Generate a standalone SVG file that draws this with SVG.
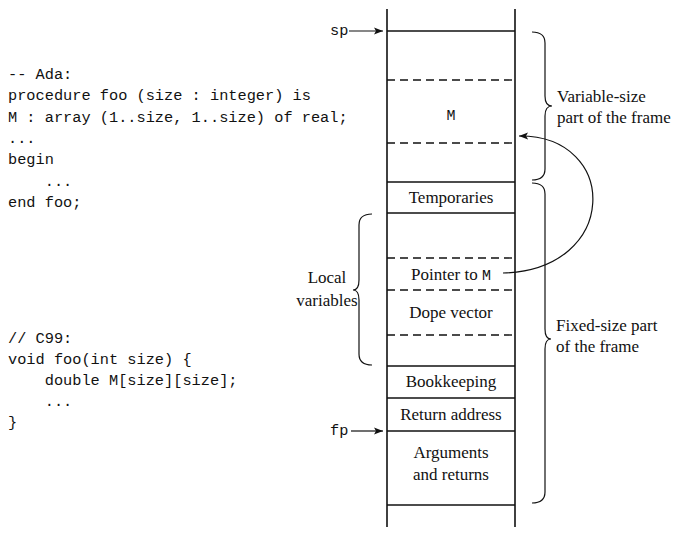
<svg xmlns="http://www.w3.org/2000/svg" width="681" height="541" viewBox="0 0 681 541">
<style>
.code{font-family:"Liberation Mono","DejaVu Sans Mono",monospace;font-size:15.3px;fill:#111}
.lbl{font-family:"Liberation Serif","DejaVu Serif",serif;font-size:17px;fill:#111}
.mid{text-anchor:middle}
.mono{font-family:"Liberation Mono","DejaVu Sans Mono",monospace;font-size:15px}
.solid{stroke:#111;stroke-width:1.6;fill:none}
.dash{stroke:#111;stroke-width:1.4;fill:none;stroke-dasharray:8 5}
.brace{stroke:#111;stroke-width:1.2;fill:none}
.conn{stroke:#111;stroke-width:1.2;fill:none}
</style>
<defs>
<marker id="ah" markerWidth="10" markerHeight="8" refX="9" refY="4" orient="auto" markerUnits="userSpaceOnUse">
<path d="M0,0.5 L9,4 L0,7.5 L2,4 Z" fill="#111"/>
</marker>
</defs>
<g id="code-ada">
<text class="code" x="8" y="79">-- Ada:</text>
<text class="code" x="8" y="100">procedure foo (size : integer) is</text>
<text class="code" x="8" y="122">M : array (1..size, 1..size) of real;</text>
<text class="code" x="8" y="143">...</text>
<text class="code" x="8" y="164">begin</text>
<text class="code" x="8" y="186" xml:space="preserve">    ...</text>
<text class="code" x="8" y="207">end foo;</text>
</g>
<g id="code-c99">
<text class="code" x="8" y="343">// C99:</text>
<text class="code" x="8" y="364">void foo(int size) {</text>
<text class="code" x="8" y="385" xml:space="preserve">    double M[size][size];</text>
<text class="code" x="8" y="406" xml:space="preserve">    ...</text>
<text class="code" x="8" y="427">}</text>
</g>
<g id="stack">
<line class="solid" x1="387" y1="9" x2="387" y2="527"/>
<line class="solid" x1="515" y1="9" x2="515" y2="527"/>
<line class="solid" x1="387" y1="31" x2="515" y2="31"/>
<line class="dash" x1="387" y1="80" x2="515" y2="80"/>
<line class="dash" x1="387" y1="143" x2="515" y2="143"/>
<line class="solid" x1="387" y1="182" x2="515" y2="182"/>
<line class="solid" x1="387" y1="213" x2="515" y2="213"/>
<line class="dash" x1="387" y1="258" x2="515" y2="258"/>
<line class="dash" x1="387" y1="290" x2="515" y2="290"/>
<line class="dash" x1="387" y1="335" x2="515" y2="335"/>
<line class="solid" x1="387" y1="366" x2="515" y2="366"/>
<line class="solid" x1="387" y1="398" x2="515" y2="398"/>
<line class="solid" x1="387" y1="431" x2="515" y2="431"/>
<line class="solid" x1="387" y1="505" x2="515" y2="505"/>
</g>
<g id="node-M"><text class="lbl mono mid" x="451" y="120">M</text></g>
<g id="node-temporaries"><text class="lbl mid" x="451" y="203">Temporaries</text></g>
<g id="node-pointer"><text class="lbl mid" x="451" y="280">Pointer to <tspan class="mono">M</tspan></text></g>
<g id="node-dope"><text class="lbl mid" x="451" y="318">Dope vector</text></g>
<g id="node-bookkeeping"><text class="lbl mid" x="451" y="387">Bookkeeping</text></g>
<g id="node-return"><text class="lbl mid" x="451" y="420">Return address</text></g>
<g id="node-args"><text class="lbl mid" x="451" y="458">Arguments</text><text class="lbl mid" x="451" y="480">and returns</text></g>
<g id="node-sp"><text class="code" x="330" y="35">sp</text></g>
<g id="node-fp"><text class="code" x="330" y="435">fp</text></g>
<g id="brace-variable">
<path class="brace" d="M532,32 Q545,32 545,43 L545,96 Q545,106 552,106 Q545,106 545,116 L545,169 Q545,180 532,180"/>
<text class="lbl" x="557" y="102">Variable-size</text>
<text class="lbl" x="557" y="123">part of the frame</text>
</g>
<g id="brace-fixed">
<path class="brace" d="M532,183 Q545,183 545,194 L545,329 Q545,339 551,339 Q545,339 545,349 L545,492 Q545,503 532,503"/>
<text class="lbl" x="556" y="331">Fixed-size part</text>
<text class="lbl" x="556" y="352">of the frame</text>
</g>
<g id="brace-local">
<path class="brace" d="M372,214 Q359,214 359,225 L359,280 Q359,290 353,290 Q359,290 359,300 L359,354 Q359,365 372,365"/>
<text class="lbl mid" x="327" y="283">Local</text>
<text class="lbl mid" x="327" y="306">variables</text>
</g>
<g id="connectors">
<line class="conn" x1="349" y1="31" x2="383" y2="31" marker-end="url(#ah)"/>
<line class="conn" x1="351" y1="431" x2="383" y2="431" marker-end="url(#ah)"/>
<path class="conn" d="M503,273 C620,270 620,135 519,136" marker-end="url(#ah)"/>
</g>
</svg>
